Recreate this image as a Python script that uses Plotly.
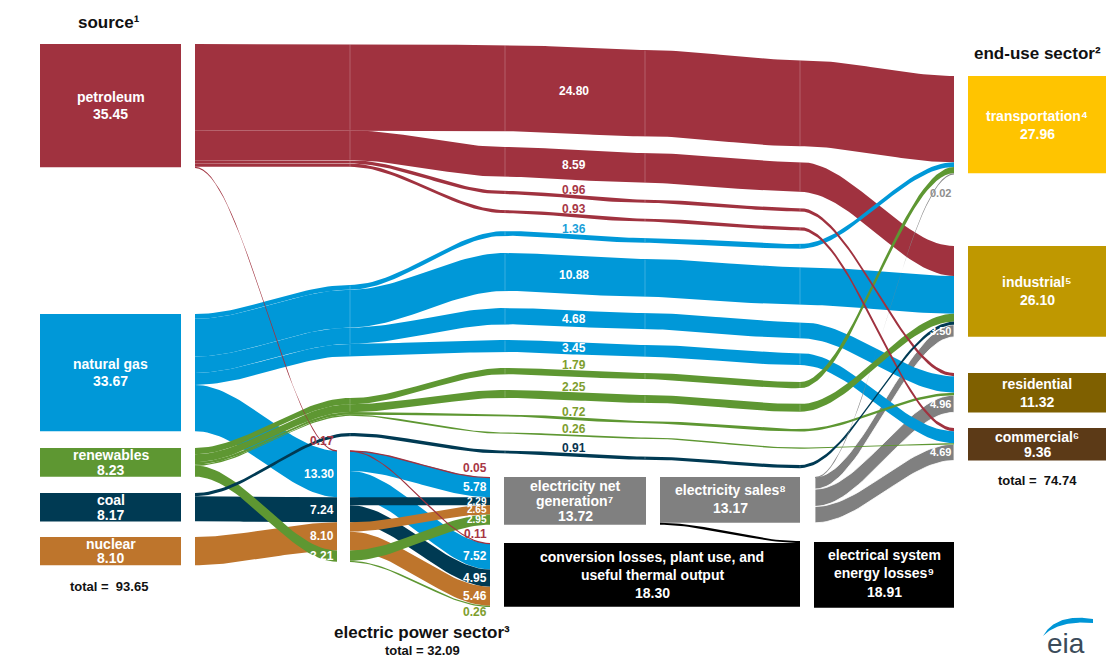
import numpy as np
import plotly.graph_objects as go

# ---------------- data (quadrillion Btu) ----------------
sources = ["petroleum", "natural gas", "renewables", "coal", "nuclear"]
source_values = [35.45, 33.67, 8.23, 8.17, 8.10]
source_total = 93.65

sectors = ["transportation", "industrial", "residential", "commercial"]
sector_labels = ["transportation\u2074", "industrial\u2075", "residential", "commercial\u2076"]
sector_values = [27.96, 26.10, 11.32, 9.36]
sector_total = 74.74

# direct use: source -> (transportation, industrial, residential, commercial)
petroleum_to_sector = [24.80, 8.59, 0.96, 0.93]
gas_to_sector = [1.36, 10.88, 4.68, 3.45]
renewables_to_sector = [1.79, 2.25, 0.72, 0.26]
coal_to_sector = [0.00, 0.91, 0.00, 0.00]
nuclear_to_sector = [0.00, 0.00, 0.00, 0.00]

# source -> electric power sector (order of `sources`)
to_power = [0.17, 13.30, 3.21, 7.24, 8.10]
power_generation = [0.05, 5.78, 2.95, 2.29, 2.65]
power_losses = [0.11, 7.52, 0.26, 4.95, 5.46]
power_total = 32.09
net_generation = 13.72
conversion_losses = 18.30
electricity_sales = 13.17
system_losses = 18.91
electricity_to_sector = [0.02, 3.50, 4.96, 4.69]

# ---------------- layout / style config ----------------
W, H = 1106, 658
K = 3.48          # px per quad
MIN_T = 1.3
FONT = "Liberation Sans, Arial, Helvetica, sans-serif"

SRC_COLORS = ["#A0323F", "#0098D8", "#5E9732", "#003A53", "#BE752C"]
SRC_TEXT = ["#A83745", "#1A9FD9", "#7E9E2E", "#0B3650", "#BE752C"]
SEC_COLORS = ["#FFC400", "#BF9800", "#7F6000", "#5C3A17"]
GRAY = "#808080"

SRC_X = (40, 181)
SRC_TOP = [44, 314, 448, 493, 537]
END_X = (968, 1106)
END_TOP = [76, 246, 373, 428]
X_START, X_SPLIT, X_END = 195, 350, 954
X_MID = [505, 645, 800]
BUNDLE_TOP = {"petroleum": 44, "natural gas": 285, "renewables": 398, "coal": 433}
MID_TOPS = {
    ("petroleum", "transportation"): [45, 50, 60],
    ("petroleum", "industrial"): [147, 153, 162],
    ("petroleum", "residential"): [191, 199.5, 208],
    ("petroleum", "commercial"): [210, 218.5, 227],
    ("natural gas", "transportation"): [231, 238, 244],
    ("natural gas", "industrial"): [253, 259, 267],
    ("natural gas", "residential"): [308, 313, 322],
    ("natural gas", "commercial"): [340, 345, 353],
    ("renewables", "transportation"): [368, 373, 382],
    ("renewables", "industrial"): [390, 395, 404],
    ("renewables", "residential"): [414, 421, 429],
    ("renewables", "commercial"): [432.5, 437.5, 447.5],
    ("coal", "industrial"): [450.5, 456.5, 465],
}
POWER_IN_X = 337
POWER_OUT_X = (350, 490)
POWER_TOP = 450.3
GEN_TOP, LOSS_TOP = 477, 543
NETGEN_X, LOSS_X, SALES_X, SYS_X = (504, 646), (504, 800), (660, 800), (814, 954)
SYS_TOP = 542
ELEC_X0 = 815
POWER_ORDER = [0, 1, 3, 4, 2]   # petroleum, gas, coal, nuclear, renewables
MID_LABEL_X = 574


def smooth_seg(xa, ya, xb, yb, n=36):
    s = np.linspace(0.0, 1.0, n)
    return xa + (xb - xa) * s, ya + (yb - ya) * (3 * s ** 2 - 2 * s ** 3)


def build_path(xs, tops):
    px, py = [], []
    for k in range(len(xs) - 1):
        a, b = smooth_seg(xs[k], tops[k], xs[k + 1], tops[k + 1])
        if k > 0:
            a, b = a[1:], b[1:]
        px.append(a)
        py.append(b)
    return np.concatenate(px), np.concatenate(py)


def top_at(xs, tops, x):
    px, py = build_path(xs, tops)
    return float(np.interp(x, px, py))


layers = {k: [] for k in range(9)}
seams = []


def add_band(layer, xs, tops, value, color, edge=None, seam_xs=()):
    t = max(value * K, MIN_T)
    px, py = build_path(xs, tops)
    X = np.concatenate([px, px[::-1], px[:1]])
    Y = np.concatenate([py, (py + t)[::-1], py[:1]])
    layers[layer].append(go.Scatter(
        x=X, y=Y, mode="lines", fill="toself", fillcolor=color,
        line=dict(width=0.8 if edge else 0, color=edge if edge else color),
        hoverinfo="skip", showlegend=False))
    if t > 3:
        for sx in seam_xs:
            yt = float(np.interp(sx, px, py))
            seams.append((sx, yt + 0.5, yt + t - 0.5))
    return t


ann = []


def label(x, y, text, size=12, color="white", xanchor="center", bold=True):
    ann.append(dict(x=x, y=y, xref="x", yref="y", text=f"<b>{text}</b>" if bold else text,
                    showarrow=False, xanchor=xanchor, yanchor="middle",
                    font=dict(family=FONT, size=size, color=color)))


shapes = []


def box(x0, x1, y0, h, color):
    shapes.append(dict(type="rect", xref="x", yref="y", x0=x0, x1=x1, y0=y0, y1=y0 + h,
                       fillcolor=color, line=dict(width=0), layer="below"))


direct = [petroleum_to_sector, gas_to_sector, renewables_to_sector, coal_to_sector, nuclear_to_sector]
direct_sum = [sum(d) for d in direct]

# arrival stacking at end-use sectors
arrive = {}
for j in range(4):
    y = END_TOP[j]
    for i in range(5):
        if direct[i][j] > 0:
            arrive[(i, j)] = y
            y += direct[i][j] * K
    arrive[("elec", j)] = y

# ---- direct flows ----
for i, src in enumerate(sources[:4]):
    y0 = SRC_TOP[i]
    yb = BUNDLE_TOP[src]
    for j, sec in enumerate(sectors):
        v = direct[i][j]
        if v <= 0:
            continue
        xs = [X_START, X_SPLIT] + X_MID + [X_END]
        tops = [y0, yb] + MID_TOPS[(src, sec)] + [arrive[(i, j)]]
        if i == 0:
            layer = 1 if v >= 2 else 5
        elif i == 1:
            layer = 2
        elif i == 2:
            layer = 4
        else:
            layer = 6
        t = add_band(layer, xs, tops, v, SRC_COLORS[i], seam_xs=[X_SPLIT] + X_MID)
        yt = top_at(xs, tops, MID_LABEL_X)
        if t >= 10:
            label(MID_LABEL_X, yt + t / 2, f"{v:.2f}", 12, "white")
        else:
            label(MID_LABEL_X, yt - 5.5, f"{v:.2f}", 12, SRC_TEXT[i])
        y0 += v * K
        yb += v * K

# ---- source -> electric power sector ----
power_layer = {0: 5, 1: 2, 2: 4, 3: 3, 4: 3}
y_in = POWER_TOP
power_in_top = {}
for i in POWER_ORDER:
    v = to_power[i]
    ys = SRC_TOP[i] + direct_sum[i] * K
    t = add_band(power_layer[i], [X_START, POWER_IN_X], [ys, y_in], v, SRC_COLORS[i])
    power_in_top[i] = y_in
    if t >= 10:
        label(POWER_IN_X - 1, y_in + t / 2, f"{v:.2f}", 12, "white", xanchor="right")
    else:
        label(POWER_IN_X - 1, y_in - 9, f"{v:.2f}", 12, SRC_TEXT[i], xanchor="right")
    y_in += v * K

# ---- electric power sector split ----
gen_y, loss_y = GEN_TOP, LOSS_TOP
for i in POWER_ORDER:
    y350 = power_in_top[i]
    g, l = power_generation[i], power_losses[i]
    tg = add_band(power_layer[i], list(POWER_OUT_X), [y350, gen_y], g, SRC_COLORS[i])
    tl = add_band(power_layer[i], list(POWER_OUT_X), [y350 + g * K, loss_y], l, SRC_COLORS[i])
    for val, tt, yy in ((g, tg, gen_y), (l, tl, loss_y)):
        if tt >= 6:
            fs = 12 if tt >= 12 else 10
            label(POWER_OUT_X[1] - 1, yy + tt / 2, f"{val:.2f}", fs, "white", xanchor="right")
        elif i == 0:
            label(POWER_OUT_X[1] - 1, yy - 9, f"{val:.2f}", 12, SRC_TEXT[i], xanchor="right")
        else:
            label(POWER_OUT_X[1] - 1, yy + tt + 5, f"{val:.2f}", 12, SRC_TEXT[i], xanchor="right")
    gen_y += g * K
    loss_y += l * K

# ---- electricity sales -> end-use sectors ----
ye = GEN_TOP
for j in range(4):
    v = electricity_to_sector[j]
    if v * K < 2:
        t = add_band(7, [ELEC_X0, X_END], [ye, arrive[("elec", j)]], v, "#8a8a8a")
        label(X_END - 1, arrive[("elec", j)] + 20, f"{v:.2f}", 11, "#8e8e8e", xanchor="right")
    else:
        t = add_band(0, [ELEC_X0, X_END], [ye, arrive[("elec", j)]], v, GRAY, edge="white")
        label(X_END - 1, arrive[("elec", j)] + t / 2, f"{v:.2f}", 11, "white", xanchor="right")
    ye += v * K

# difference between net generation and sales
diff = net_generation - electricity_sales
add_band(7, [SALES_X[0], SALES_X[1]], [GEN_TOP + electricity_sales * K, LOSS_TOP - diff * K], diff, "#000000")

# ---- boxes ----
for i in range(5):
    h = source_values[i] * K
    box(SRC_X[0], SRC_X[1], SRC_TOP[i], h, SRC_COLORS[i])
    cx = (SRC_X[0] + SRC_X[1]) / 2
    cy = SRC_TOP[i] + h / 2
    d = 8.7 if h > 60 else 7.3
    label(cx, cy - d, sources[i], 14, "white")
    label(cx, cy + d, f"{source_values[i]:.2f}", 14, "white")

for j in range(4):
    h = sector_values[j] * K
    box(END_X[0], END_X[1], END_TOP[j], h, SEC_COLORS[j])
    cx = (END_X[0] + END_X[1]) / 2
    cy = END_TOP[j] + h / 2
    d = 9 if h > 35 else 7.5
    label(cx, cy - d, sector_labels[j], 14, "white")
    label(cx, cy + d, f"{sector_values[j]:.2f}", 14, "white")

h = net_generation * K
box(NETGEN_X[0], NETGEN_X[1], GEN_TOP, h, GRAY)
cx, cy = sum(NETGEN_X) / 2, GEN_TOP + h / 2
label(cx, cy - 14.5, "electricity net", 14)
label(cx, cy, "generation\u2077", 14)
label(cx, cy + 15.5, f"{net_generation:.2f}", 14)

h = electricity_sales * K
box(SALES_X[0], SALES_X[1], GEN_TOP, h, GRAY)
cx, cy = sum(SALES_X) / 2, GEN_TOP + h / 2
label(cx, cy - 9.5, "electricity sales\u2078", 14)
label(cx, cy + 8.5, f"{electricity_sales:.2f}", 14)

h = conversion_losses * K
box(LOSS_X[0], LOSS_X[1], LOSS_TOP, h, "#000000")
cx, cy = sum(LOSS_X) / 2, LOSS_TOP + h / 2
label(cx, cy - 17.8, "conversion losses, plant use, and", 14)
label(cx, cy, "useful thermal output", 14)
label(cx, cy + 17.9, f"{conversion_losses:.2f}", 14)

h = system_losses * K
box(SYS_X[0], SYS_X[1], SYS_TOP, h, "#000000")
cx, cy = sum(SYS_X) / 2, SYS_TOP + h / 2
label(cx, cy - 20, "electrical system", 14)
label(cx, cy - 2, "energy losses\u2079", 14)
label(cx, cy + 17, f"{system_losses:.2f}", 14)

# ---- titles / totals ----
src_cx = (SRC_X[0] + SRC_X[1]) / 2 - 2
end_cx = (END_X[0] + END_X[1]) / 2
label(src_cx, 22, "source\u00b9", 17, "#111111")
label(end_cx, 53, "end-use sector\u00b2", 17, "#111111")
label(422, 632, "electric power sector\u00b3", 17, "#111111")
label(422, 650, f"total = {power_total:.2f}", 13, "#111111")
label(src_cx, SRC_TOP[4] + source_values[4] * K + 21, f"total =\u00a0 {source_total:.2f}", 13, "#111111")
label(end_cx, END_TOP[3] + sector_values[3] * K + 20, f"total =\u00a0 {sector_total:.2f}", 13, "#111111")

# ---- assemble ----
fig = go.Figure()
for k in sorted(layers):
    for tr in layers[k]:
        fig.add_trace(tr)

sx, sy = [], []
for x, a, b in seams:
    sx += [x, x, None]
    sy += [a, b, None]
fig.add_trace(go.Scatter(x=sx, y=sy, mode="lines", line=dict(color="rgba(255,255,255,0.22)", width=1),
                         hoverinfo="skip", showlegend=False))

# eia logo
s = np.linspace(0, 1, 40)
def qbez(p0, p1, p2):
    return ((1 - s) ** 2 * p0[0] + 2 * (1 - s) * s * p1[0] + s ** 2 * p2[0],
            (1 - s) ** 2 * p0[1] + 2 * (1 - s) * s * p1[1] + s ** 2 * p2[1])
ux, uy = qbez((1043, 636), (1056, 613), (1093, 619))
lx, ly = qbez((1043, 636), (1059, 620), (1093, 623))
fig.add_trace(go.Scatter(x=np.concatenate([ux, lx[::-1]]), y=np.concatenate([uy, ly[::-1]]),
                         mode="lines", fill="toself", fillcolor="#0096D6", line=dict(width=0),
                         hoverinfo="skip", showlegend=False))
ann.append(dict(x=1066, y=643, xref="x", yref="y", text="eia", showarrow=False,
                font=dict(family="Liberation Sans, Arial, sans-serif", size=28, color="#3B4B5A")))

fig.update_layout(
    width=W, height=H, margin=dict(l=0, r=0, t=0, b=0),
    paper_bgcolor="white", plot_bgcolor="white",
    xaxis=dict(range=[0, W], visible=False, fixedrange=True),
    yaxis=dict(range=[H, 0], visible=False, fixedrange=True),
    shapes=shapes, annotations=ann, showlegend=False,
)
fig.write_html("out.html", config={"displayModeBar": False},
               post_script="document.body.style.margin='0';document.body.style.padding='0';"
                           "document.body.style.overflow='hidden';")
